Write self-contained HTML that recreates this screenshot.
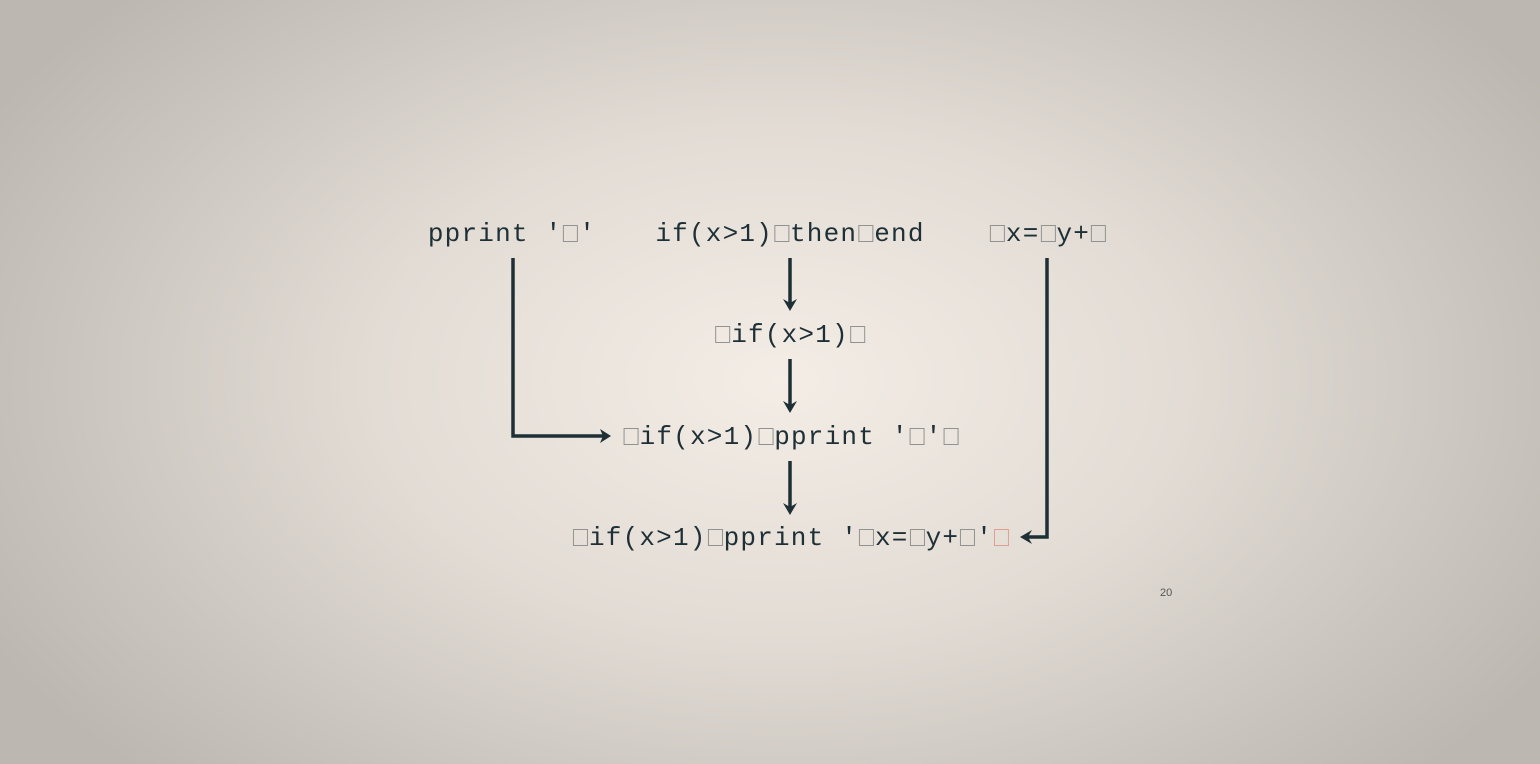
<!DOCTYPE html>
<html><head><meta charset="utf-8"><style>
html,body{margin:0;padding:0}
body{width:1540px;height:764px;position:relative;overflow:hidden;
background:radial-gradient(ellipse 900px 560px at 780px 380px,#f3ede6 0%,#e2dcd5 45%,#c9c4bd 80%,#bcb7b0 100%);
font-family:"Liberation Mono","DejaVu Sans Mono",monospace;color:#1e2f36}
.t{position:absolute;white-space:pre;font-size:26px;letter-spacing:1.2px;line-height:30px;transform:translateX(-50%)}
.b{display:inline-block;width:15px;height:17px;border:1.5px solid #929290;box-sizing:border-box;margin:0 1px -1px 1px;vertical-align:baseline;letter-spacing:0}
.r{border-color:#e0a090}
svg{position:absolute;left:0;top:0}
</style></head><body>
<svg width="1540" height="764">
<g stroke="#1e2f36" stroke-width="3.5" fill="none">
<polyline points="513,258 513,436 604,436"/>
<line x1="790" y1="258" x2="790" y2="304"/>
<line x1="790" y1="359" x2="790" y2="406"/>
<line x1="790" y1="461" x2="790" y2="508"/>
<polyline points="1047,258 1047,537 1028,537"/>
</g>
<g fill="#1e2f36">
<polygon points="611,436 600,429 603,436 600,443"/>
<polygon points="790,311 783,299 790,303 797,299"/>
<polygon points="790,413 783,401 790,405 797,401"/>
<polygon points="790,515 783,503 790,507 797,503"/>
<polygon points="1020,537 1032,530 1028,537 1032,544"/>
</g>
</svg>
<div class="t" style="left:512px;top:219px">pprint '<span class="b"></span>'</div>
<div class="t" style="left:790px;top:219px">if(x&gt;1)<span class="b"></span>then<span class="b"></span>end</div>
<div class="t" style="left:1048px;top:219px"><span class="b"></span>x=<span class="b"></span>y+<span class="b"></span></div>
<div class="t" style="left:790px;top:320px"><span class="b"></span>if(x&gt;1)<span class="b"></span></div>
<div class="t" style="left:791px;top:422px"><span class="b"></span>if(x&gt;1)<span class="b"></span>pprint '<span class="b"></span>'<span class="b"></span></div>
<div class="t" style="left:791px;top:523px"><span class="b"></span>if(x&gt;1)<span class="b"></span>pprint '<span class="b"></span>x=<span class="b"></span>y+<span class="b"></span>'<span class="b r"></span></div>
<div style="position:absolute;left:1160px;top:587px;font-family:'Liberation Sans',sans-serif;font-size:11px;color:#555">20</div>
</body></html>
